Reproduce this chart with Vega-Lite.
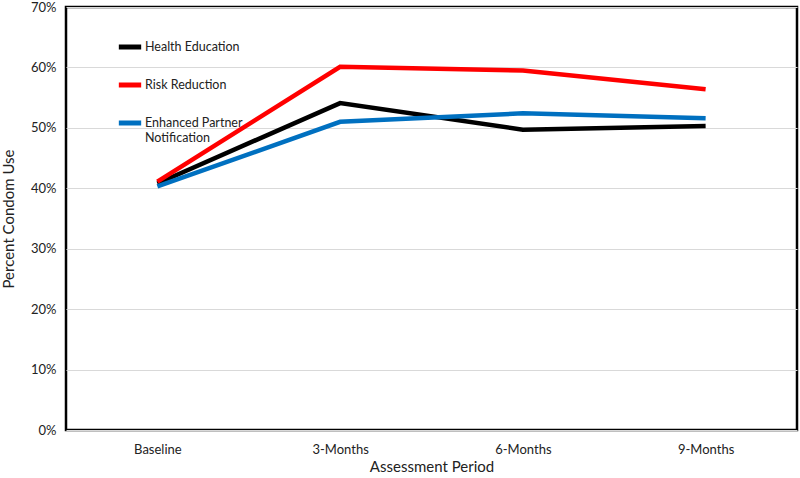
{
  "$schema": "https://vega.github.io/schema/vega-lite/v6.json",
  "autosize": "none",
  "width": 731,
  "height": 423,
  "padding": {"left": 66, "top": 7, "right": 3, "bottom": 48},
  "config": {
    "font": "Lato",
    "view": {"stroke": "black", "strokeWidth": 2.5},
    "axis": {"labelFont": "Lato", "titleFont": "Lato", "labelColor": "#222", "titleColor": "#222", "titleFontWeight": "normal"}
  },
  "data": {
    "values": [
      {"period": "Baseline", "group": "Health Education", "pct": 40.8},
      {"period": "3-Months", "group": "Health Education", "pct": 54.1},
      {"period": "6-Months", "group": "Health Education", "pct": 49.7},
      {"period": "9-Months", "group": "Health Education", "pct": 50.3},
      {"period": "Baseline", "group": "Risk Reduction", "pct": 41.1},
      {"period": "3-Months", "group": "Risk Reduction", "pct": 60.1},
      {"period": "6-Months", "group": "Risk Reduction", "pct": 59.5},
      {"period": "9-Months", "group": "Risk Reduction", "pct": 56.4},
      {"period": "Baseline", "group": "Enhanced Partner Notification", "pct": 40.3},
      {"period": "3-Months", "group": "Enhanced Partner Notification", "pct": 51.0},
      {"period": "6-Months", "group": "Enhanced Partner Notification", "pct": 52.4},
      {"period": "9-Months", "group": "Enhanced Partner Notification", "pct": 51.6}
    ]
  },
  "mark": {"type": "line", "strokeWidth": 4.5},
  "encoding": {
    "x": {
      "field": "period", "type": "ordinal",
      "sort": ["Baseline", "3-Months", "6-Months", "9-Months"],
      "scale": {"type": "point", "padding": 0.5},
      "axis": {"title": "Assessment Period", "labelAngle": 0, "ticks": false, "domain": false, "labelFontSize": 13, "labelPadding": 13, "titleFontSize": 15, "titlePadding": 3, "grid": false}
    },
    "y": {
      "field": "pct", "type": "quantitative",
      "scale": {"domain": [0, 70]},
      "axis": {"title": "Percent Condom Use", "values": [0,10,20,30,40,50,60,70], "labelExpr": "datum.value + '%'", "ticks": false, "domain": false, "gridColor": "#d9d9d9", "gridWidth": 1, "labelFontSize": 13, "labelPadding": 10, "titleFontSize": 15, "titlePadding": 14}
    },
    "color": {
      "field": "group", "type": "nominal",
      "sort": ["Health Education", "Risk Reduction", "Enhanced Partner Notification"],
      "scale": {"domain": ["Health Education", "Risk Reduction", "Enhanced Partner Notification"], "range": ["#000000", "#ff0000", "#0070c0"]},
      "legend": {
        "title": null, "orient": "none", "legendX": 50, "legendY": 26,
        "symbolType": "stroke", "symbolStrokeWidth": 5, "symbolSize": 500,
        "labelFontSize": 12.5, "labelColor": "#222",
        "rowPadding": 14, "labelOffset": 1,
        "labelExpr": "datum.label == 'Enhanced Partner Notification' ? ['Enhanced Partner', 'Notification'] : datum.label"
      }
    }
  }
}
